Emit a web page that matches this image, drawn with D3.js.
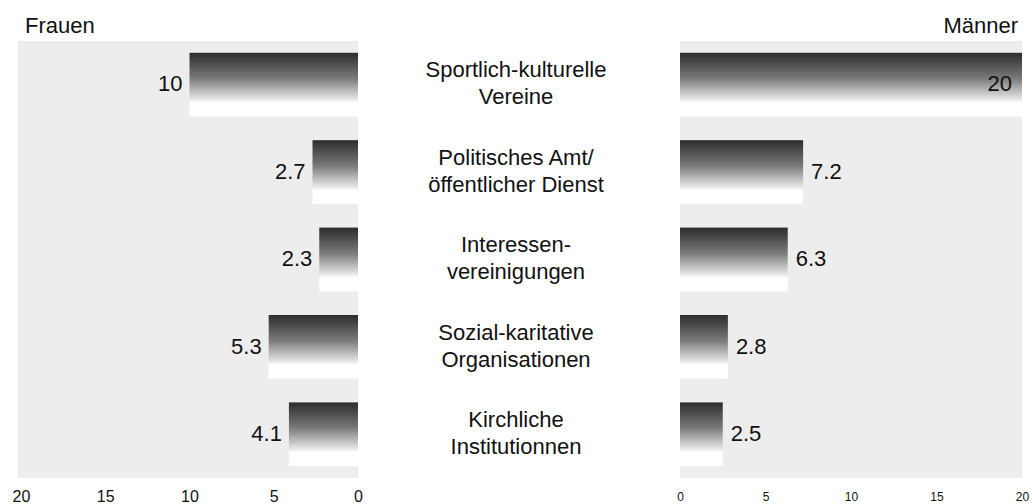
<!DOCTYPE html>
<html>
<head>
<meta charset="utf-8">
<script src="https://cdn.jsdelivr.net/npm/d3@7"></script>
<style>
  body { margin: 0; background: #fff; }
  svg { display: block; font-family: "Liberation Sans", Arial, sans-serif; }
</style>
</head>
<body>
<div id="chart"></div>
<script>
const categories = [
    ["Sportlich-kulturelle", "Vereine"],
    ["Politisches Amt/", "öffentlicher Dienst"],
    ["Interessen-", "vereinigungen"],
    ["Sozial-karitative", "Organisationen"],
    ["Kirchliche", "Institutionnen"]
];
const frauen = [10, 2.7, 2.3, 5.3, 4.1];
const maenner = [20, 7.2, 6.3, 2.8, 2.5];
const ticks = [0, 5, 10, 15, 20];

const width = 1032, height = 504;

const svg = d3.select("#chart").append("svg")
    .attr("width", width)
    .attr("height", height);

// gradient for the bars: dark top, fading to white
let defs = svg.append("defs");
let grad = defs.append("linearGradient")
    .attr("id", "barGrad")
    .attr("x1", 0).attr("y1", 0).attr("x2", 0).attr("y2", 1);
grad.append("stop").attr("offset", "0%").attr("stop-color", "#2c2c2c");
grad.append("stop").attr("offset", "40%").attr("stop-color", "#7a7a7a");
grad.append("stop").attr("offset", "75%").attr("stop-color", "#eeeeee");
grad.append("stop").attr("offset", "78%").attr("stop-color", "#fff");
grad.append("stop").attr("offset", "100%").attr("stop-color", "#fff");

const y = d3.scaleBand()
    .domain(d3.range(categories.length))
    .range([41, 478])
    .paddingInner(0.27)
    .paddingOuter(0.135);

const xLeft = d3.scaleLinear().domain([0, 20]).range([358, 21]);
const xRight = d3.scaleLinear().domain([0, 20]).range([680, 1022]);

// panel backgrounds
svg.append("rect")
    .attr("x", xLeft(20) - 3).attr("y", 41)
    .attr("width", xLeft(0) - xLeft(20) + 3).attr("height", 437)
    .attr("fill", "#ededed");
svg.append("rect")
    .attr("x", xRight(0)).attr("y", 41)
    .attr("width", xRight(20) - xRight(0)).attr("height", 437)
    .attr("fill", "#ededed");

// left bars (Frauen)
svg.selectAll(".bar-f")
    .data(frauen)
    .join("rect")
    .attr("class", "bar-f")
    .attr("x", d => xLeft(d))
    .attr("y", (d, i) => y(i))
    .attr("width", d => xLeft(0) - xLeft(d))
    .attr("height", y.bandwidth())
    .attr("fill", "url(#barGrad)");

svg.selectAll(".val-f")
    .data(frauen)
    .join("text")
    .attr("class", "val-f")
    .attr("x", d => xLeft(d) - 7)
    .attr("y", (d, i) => y(i) + 31)
    .attr("dy", "0.35em")
    .attr("text-anchor", "end")
    .attr("font-size", 22)
    .attr("fill", "#111")
    .text(d => d);

// right bars (Männer)
svg.selectAll(".bar-m")
    .data(maenner)
    .join("rect")
    .attr("class", "bar-m")
    .attr("x", xRight(0))
    .attr("y", (d, i) => y(i))
    .attr("width", d => xRight(d) - xRight(0))
    .attr("height", y.bandwidth())
    .attr("fill", "url(#barGrad)");

svg.selectAll(".val-m")
    .data(maenner)
    .join("text")
    .attr("class", "val-m")
    .attr("x", d => d >= 15 ? xRight(d) - 10 : xRight(d) + 8)
    .attr("y", (d, i) => y(i) + 31)
    .attr("dy", "0.35em")
    .attr("text-anchor", d => d >= 15 ? "end" : "start")
    .attr("font-size", 22)
    .attr("fill", "#111")
    .text(d => d);

// category labels in the middle
let cat = svg.selectAll(".cat")
    .data(categories)
    .join("text")
    .attr("class", "cat")
    .attr("x", 516)
    .attr("y", (d, i) => y(i) + 17)
    .attr("text-anchor", "middle")
    .attr("font-size", 22)
    .attr("fill", "#111");
cat.selectAll("tspan")
    .data(d => d)
    .join("tspan")
    .attr("x", 516)
    .attr("dy", (d, j) => j === 0 ? "0.35em" : 27)
    .text(d => d);

// axes
let axL = svg.append("g")
    .attr("transform", "translate(0,478)")
    .call(d3.axisBottom(xLeft).tickValues(ticks).tickSize(0).tickPadding(13));
axL.select(".domain").remove();
axL.selectAll("text").attr("font-size", 16).attr("fill", "#111")
    .attr("font-family", "\"Liberation Sans\", Arial, sans-serif");

let axR = svg.append("g")
    .attr("transform", "translate(0,478)")
    .call(d3.axisBottom(xRight).tickValues(ticks).tickSize(0).tickPadding(14));
axR.select(".domain").remove();
axR.selectAll("text").attr("font-size", 12).attr("fill", "#111")
    .attr("font-family", "\"Liberation Sans Narrow\", \"Liberation Sans\", Arial, sans-serif");

// panel titles
svg.append("text")
    .attr("x", 25).attr("y", 33)
    .attr("font-size", 22).attr("fill", "#111")
    .text("Frauen");
svg.append("text")
    .attr("x", 1018).attr("y", 33)
    .attr("text-anchor", "end")
    .attr("font-size", 22).attr("fill", "#111")
    .text("Männer");
</script>
</body>
</html>
